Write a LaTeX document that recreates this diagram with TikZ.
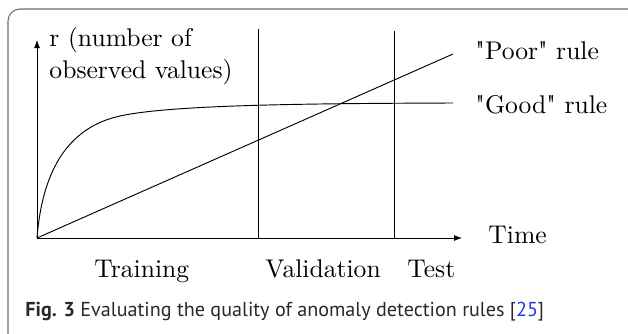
\documentclass[tikz,border=0pt]{standalone}
\usepackage{fontspec}
\setmainfont{lmroman10-regular}[Extension=.otf,BoldFont=lmroman10-bold]
\newfontfamily\capfont{PT Sans}
\usetikzlibrary{arrows.meta}
\definecolor{framegray}{RGB}{110,110,110}
\definecolor{captext}{RGB}{40,40,40}
\definecolor{citeblue}{RGB}{30,60,230}
\tikzset{every picture/.style={line width=0.7pt},
  lbl/.style={anchor=base west,inner sep=0pt,font=\fontsize{19.2}{23.3}\selectfont},
  axis/.style={-{Latex[length=6pt,width=4.5pt]}}}

\begin{document}
\begin{tikzpicture}[x=0.75pt,y=0.75pt,yscale=-1,xscale=1]
\useasboundingbox (0,0) rectangle (628,333);

%Shape: Frame
\draw [color=framegray,line width=0.8pt,rounded corners=9] (8,345) -- (8,9) -- (640,9) ;
%Straight Lines: phase borders
\draw    (258,29) -- (258,238) ;
\draw    (394,31) -- (394,238) ;
%Straight Lines: poor rule
\draw    (37,238) -- (453,54) ;
%Curve Lines: good rule
\draw    (37,238) .. controls (42,175) and (65,128) .. (120,116) .. controls (170,105) and (300,103.5) .. (453,103) ;
%Shape: Axis 2D
\draw [axis]  (37,238) -- (462,238) ;
\draw [axis]  (37,238) -- (37,40) ;

% Text Node
\node (ylabel) [lbl,align=left] at (49,78) {r (number of\\observed values)};
% Text Node
\node (poor) [lbl] at (475,59) {\textquotedbl Poor\textquotedbl{} rule};
% Text Node
\node (good) [lbl] at (475,113) {\textquotedbl Good\textquotedbl{} rule};
% Text Node
\node (time) [lbl] at (488,243) {Time};
% Text Node
\node (train) [lbl] at (94,277) {Training};
% Text Node
\node (valid) [lbl] at (265,277) {Validation};
% Text Node
\node (test) [lbl] at (407,277) {Test};
% Text Node
\node (caption) [anchor=base west,inner sep=0pt,font=\capfont\fontsize{15.1}{17}\selectfont,text=captext] at (25,316) {\textbf{Fig. 3} Evaluating the quality of anomaly detection rules [{\color{citeblue}25}]};

\end{tikzpicture}
\end{document}
